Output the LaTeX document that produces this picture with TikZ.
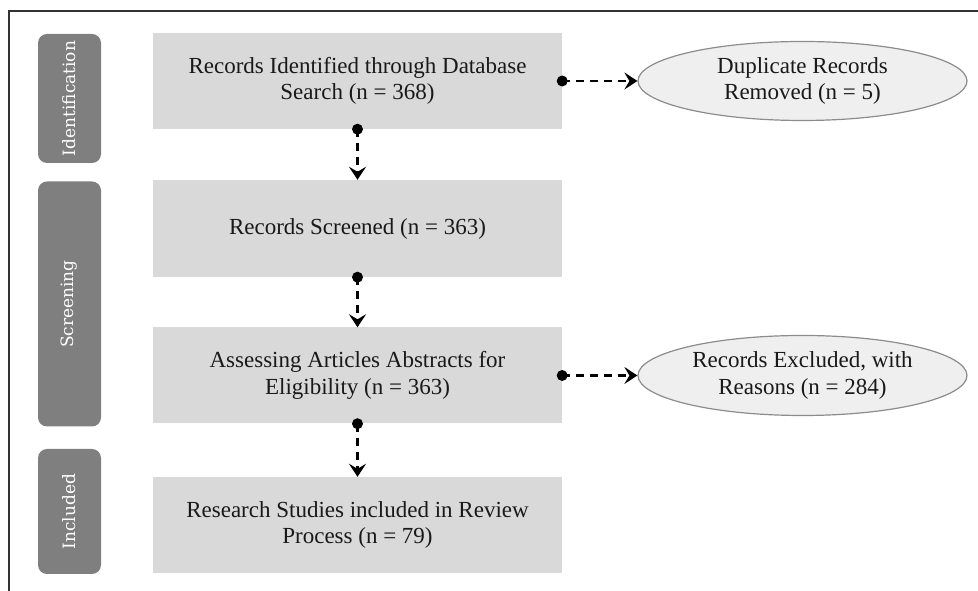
\documentclass[tikz,border=0pt]{standalone}
\usepackage{fontspec}
\setmainfont{Liberation Serif}
\newfontfamily\slabfont{DejaVu Serif}
\usetikzlibrary{shapes.geometric,arrows.meta}
\definecolor{boxgray}{HTML}{D9D9D9}
\definecolor{phasegray}{HTML}{7F7F7F}
\definecolor{ellfill}{HTML}{EFEFEF}
\definecolor{elldraw}{HTML}{8C8C8C}
\definecolor{framecol}{HTML}{333333}
\begin{document}
\begin{tikzpicture}[x=1pt,y=1pt,
  phase/.style={fill=phasegray, rounded corners=9pt, minimum height=63pt,
    text=white, font=\slabfont\fontsize{17}{20}\selectfont, rotate=90, inner sep=0pt},
  stagebox/.style={fill=boxgray, minimum width=409pt, inner sep=0pt, align=center,
    text=black!90, font=\fontsize{23}{26.5}\selectfont},
  sidebox/.style={ellipse, draw=elldraw, line width=1.2pt, fill=ellfill, minimum width=329pt,
    inner sep=0pt, align=center, text=black!90, font=\fontsize{23}{26.5}\selectfont},
  flow/.style={line width=2.6pt, dash pattern=on 8pt off 6pt,
    -{Stealth[length=13pt,width=17pt,inset=5pt]}},
  dotmark/.style={fill=black}
]
\useasboundingbox (0,0) rectangle (978,591);
\draw[framecol, line width=1.5pt] (9,0) -- (9,580) -- (978,580);

\node[phase, minimum width=129pt] (pid) at (69.5,492.5) {Identification};
\node[phase, minimum width=245pt] (pscr) at (69.5,287) {Screening};
\node[phase, minimum width=125pt] (pinc) at (69.5,79.5) {Included};

\node[stagebox, minimum height=96pt] (b1) at (357.5,510) {Records Identified through Database\\Search (n = 368)};
\node[stagebox, minimum height=97pt] (b2) at (357.5,362.5) {Records Screened (n = 363)};
\node[stagebox, minimum height=96pt] (b3) at (357.5,215.5) {Assessing Articles Abstracts for\\Eligibility (n = 363)};
\node[stagebox, minimum height=96pt] (b4) at (357.5,66) {Research Studies included in Review\\Process (n = 79)};

\node[sidebox, minimum height=79pt] (e1) at (802.5,510) {Duplicate Records\\Removed (n = 5)};
\node[sidebox, minimum height=80pt] (e2) at (802.5,215.5) {Records Excluded, with\\Reasons (n = 284)};

\draw[flow] (b1.east) -- (e1.west);
\draw[flow] (b3.east) -- (e2.west);
\draw[flow] (b1.south) -- (b2.north);
\draw[flow] (b2.south) -- (b3.north);
\draw[flow] (b3.south) -- (b4.north);
\foreach \p in {b1.east,b3.east,b1.south,b2.south,b3.south}
  \fill[dotmark] (\p) circle (5.5pt);
\end{tikzpicture}
\end{document}
